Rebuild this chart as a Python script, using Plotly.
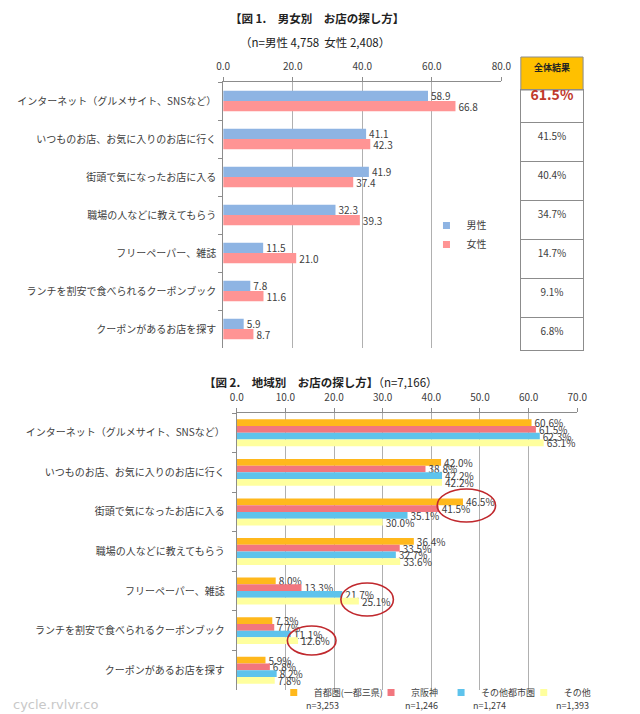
import plotly.graph_objects as go

# ---------------- data ----------------
categories = [
    "インターネット（グルメサイト、SNSなど）",
    "いつものお店、お気に入りのお店に行く",
    "街頭で気になったお店に入る",
    "職場の人などに教えてもらう",
    "フリーペーパー、雑誌",
    "ランチを割安で食べられるクーポンブック",
    "クーポンがあるお店を探す",
]
gender_names = ["男性", "女性"]
male = [58.9, 41.1, 41.9, 32.3, 11.5, 7.8, 5.9]
female = [66.8, 42.3, 37.4, 39.3, 21.0, 11.6, 8.7]
overall = [61.5, 41.5, 40.4, 34.7, 14.7, 9.1, 6.8]

region_names = ["首都圏(一都三県)", "京阪神", "その他都市圏", "その他"]
region_n = ["n=3,253", "n=1,246", "n=1,274", "n=1,393"]
shutoken = [60.6, 42.0, 46.5, 36.4, 8.0, 7.3, 5.9]
keihanshin = [61.5, 38.8, 41.5, 33.5, 13.3, 7.7, 6.8]
other_city = [62.3, 42.2, 35.1, 32.7, 21.7, 11.1, 8.2]
other = [63.1, 42.2, 30.0, 33.6, 25.1, 12.6, 7.8]

top_ticks = [0, 20, 40, 60, 80]
bottom_ticks = [0, 10, 20, 30, 40, 50, 60, 70]

# ---------------- styling helpers ----------------
W, H = 624, 714
OX, OY = 8, 8          # page body margin offset
FONT = "Noto Sans CJK JP"
TXT = "#404040"
GRID = "#B0B0B0"
LINE = "#8C8C8C"


def px(x):
    return (x - OX) / W


def py(y):
    return 1 - (y - OY) / H


gender_colors = ["#8EB4E3", "#FF9494"]
region_colors = ["#FFB81C", "#F2767E", "#5EC3EC", "#FFFF9E"]
region_legend_ids = ["legend2", "legend3", "legend4", "legend5"]
region_legend_x = [274, 374, 446, 531]

fig = go.Figure()

# ---- Figure 1 : gender ----
g_width = 0.27
for i, (name, vals, col) in enumerate(zip(gender_names, [male, female], gender_colors)):
    fig.add_trace(go.Bar(
        x=vals, y=categories, orientation="h", name=name,
        marker=dict(color=col, line=dict(width=0)),
        width=g_width, offset=-g_width + i * g_width,
        text=[f"{v:.1f}" for v in vals], textposition="outside",
        textfont=dict(size=10, color=TXT, family=FONT),
        constraintext="none", cliponaxis=False, showlegend=False,
        xaxis="x", yaxis="y",
    ))
    # small square legend key
    fig.add_trace(go.Scatter(
        x=[None], y=[None], mode="markers", name=name,
        marker=dict(symbol="square", size=7, color=col),
        xaxis="x", yaxis="y", legend="legend",
    ))

# ---- overall table (x3/y3) ----
vmax = max(overall)
table_text = [f"<b>{v:.1f}%</b>" if v == vmax else f"{v:.1f}%" for v in overall]
fig.add_trace(go.Scatter(
    x=[0.5] * len(overall), y=categories, mode="text",
    text=table_text, textposition="top center",
    textfont=dict(size=[14 if v == vmax else 10 for v in overall],
                  color=["#C0392B" if v == vmax else TXT for v in overall],
                  family=FONT),
    showlegend=False, hoverinfo="skip",
    xaxis="x3", yaxis="y3",
))

# ---- Figure 2 : region ----
r_width = 0.17
for i, (name, vals, col, lid) in enumerate(zip(region_names,
                                               [shutoken, keihanshin, other_city, other],
                                               region_colors, region_legend_ids)):
    fig.add_trace(go.Bar(
        x=vals, y=categories, orientation="h", name=name,
        marker=dict(color=col, line=dict(width=0)),
        width=r_width, offset=-2 * r_width + i * r_width,
        text=[f"{v:.1f}%" for v in vals], textposition="outside",
        textfont=dict(size=10, color=TXT, family=FONT),
        constraintext="none", cliponaxis=False, showlegend=False,
        xaxis="x2", yaxis="y2",
    ))
    fig.add_trace(go.Scatter(
        x=[None], y=[None], mode="markers", name=name,
        marker=dict(symbol="square", size=7, color=col),
        xaxis="x2", yaxis="y2", legend=lid,
    ))

cat_axis = dict(
    type="category", categoryorder="array", categoryarray=categories,
    autorange="reversed", showline=True, linecolor=LINE, linewidth=1,
    ticks="outside", ticklen=4, tickcolor=LINE, tickson="boundaries",
    showgrid=False, zeroline=False,
    tickfont=dict(size=10, color=TXT, family=FONT),
)
val_axis = dict(
    side="top", showline=True, linecolor=LINE, linewidth=1,
    ticks="outside", ticklen=4, tickcolor=LINE, ticklabelstandoff=3,
    showgrid=True, gridcolor=GRID, gridwidth=1, zeroline=False,
    tickfont=dict(size=10, color=TXT, family=FONT),
)

layout_legends = dict(
    legend=dict(x=px(431), y=py(211), xanchor="left", yanchor="top",
                orientation="v", font=dict(size=10, color=TXT, family=FONT),
                bgcolor="rgba(0,0,0,0)", itemwidth=30, tracegroupgap=0),
)
for lid, lx in zip(region_legend_ids, region_legend_x):
    layout_legends[lid] = dict(x=px(lx), y=py(678), xanchor="left", yanchor="top",
                               orientation="h", font=dict(size=9, color=TXT, family=FONT),
                               bgcolor="rgba(0,0,0,0)", itemwidth=30)

fig.update_layout(
    width=W, height=H,
    margin=dict(l=0, r=0, t=0, b=0),
    paper_bgcolor="white", plot_bgcolor="white",
    barmode="overlay",
    font=dict(family=FONT, color=TXT),
    xaxis=dict(**val_axis, domain=[px(222), px(508)], range=[0, 80],
               tickvals=top_ticks, tickformat=".1f", anchor="y"),
    yaxis=dict(**cat_axis, domain=[py(348), py(82)], anchor="x", ticklabelstandoff=4),
    xaxis2=dict(**val_axis, domain=[px(236), px(586)], range=[0, 70],
                tickvals=bottom_ticks, tickformat=".1f", ticksuffix="%", anchor="y2"),
    yaxis2=dict(**cat_axis, domain=[py(690), py(413)], anchor="x2", ticklabelstandoff=9),
    xaxis3=dict(domain=[px(528), px(592)], range=[0, 1], showline=True, mirror=True,
                linecolor=LINE, showgrid=False, zeroline=False, showticklabels=False,
                ticks="", anchor="y3", fixedrange=True),
    yaxis3=dict(type="category", categoryorder="array", categoryarray=categories,
                autorange="reversed", domain=[py(350), py(90)], showline=True, mirror=True,
                linecolor=LINE, showgrid=True, gridcolor=LINE, tickson="boundaries",
                showticklabels=False, ticks="", anchor="x3", zeroline=False),
    showlegend=True,
    **layout_legends,
)

annotations = [
    dict(text="<b>【図 1.　男女別　お店の探し方】</b>", x=px(318), y=py(18),
         font=dict(size=11.5, color="#222222")),
    dict(text="（n=男性 4,758  女性 2,408）", x=px(316), y=py(42),
         font=dict(size=11.5, color="#222222")),
    dict(text="<b>【図 2.　地域別　お店の探し方】</b>（n=7,166）", x=px(200), y=py(382),
         xanchor="left", font=dict(size=11.5, color="#222222")),
    dict(text="<b>全体結果</b>", x=px(560), y=py(67),
         font=dict(size=9, color="#222222")),
    dict(text="cycle.rvlvr.co", x=px(4), y=py(704), xanchor="left",
         font=dict(size=13, color="#C8C8C8", family="DejaVu Sans")),
]
n_x = [305, 407, 477, 562]
for lbl, xx in zip(region_n, n_x):
    annotations.append(dict(text=lbl, x=px(xx), y=py(705), xanchor="left",
                            font=dict(size=9, color=TXT, family=FONT)))
for a in annotations:
    a.setdefault("xref", "paper")
    a.setdefault("yref", "paper")
    a.setdefault("showarrow", False)
    a.setdefault("xanchor", "center")
    a.setdefault("yanchor", "middle")
fig.update_layout(annotations=annotations)

shapes = [
    # header cell of overall table
    dict(type="rect", xref="paper", yref="paper", x0=px(528), x1=px(592),
         y0=py(90), y1=py(57), fillcolor="#FFC000", line=dict(color=LINE, width=1),
         layer="below"),
]
ellipses = [(442, 502, 489, 522), (343, 397, 583, 616), (288, 338, 626, 655)]
for x0, x1, y0, y1 in ellipses:
    shapes.append(dict(type="circle", xref="paper", yref="paper",
                       x0=px(x0), x1=px(x1), y0=py(y1), y1=py(y0),
                       line=dict(color="#C0282D", width=1.6)))
fig.update_layout(shapes=shapes)

fig.write_html("out.html")
